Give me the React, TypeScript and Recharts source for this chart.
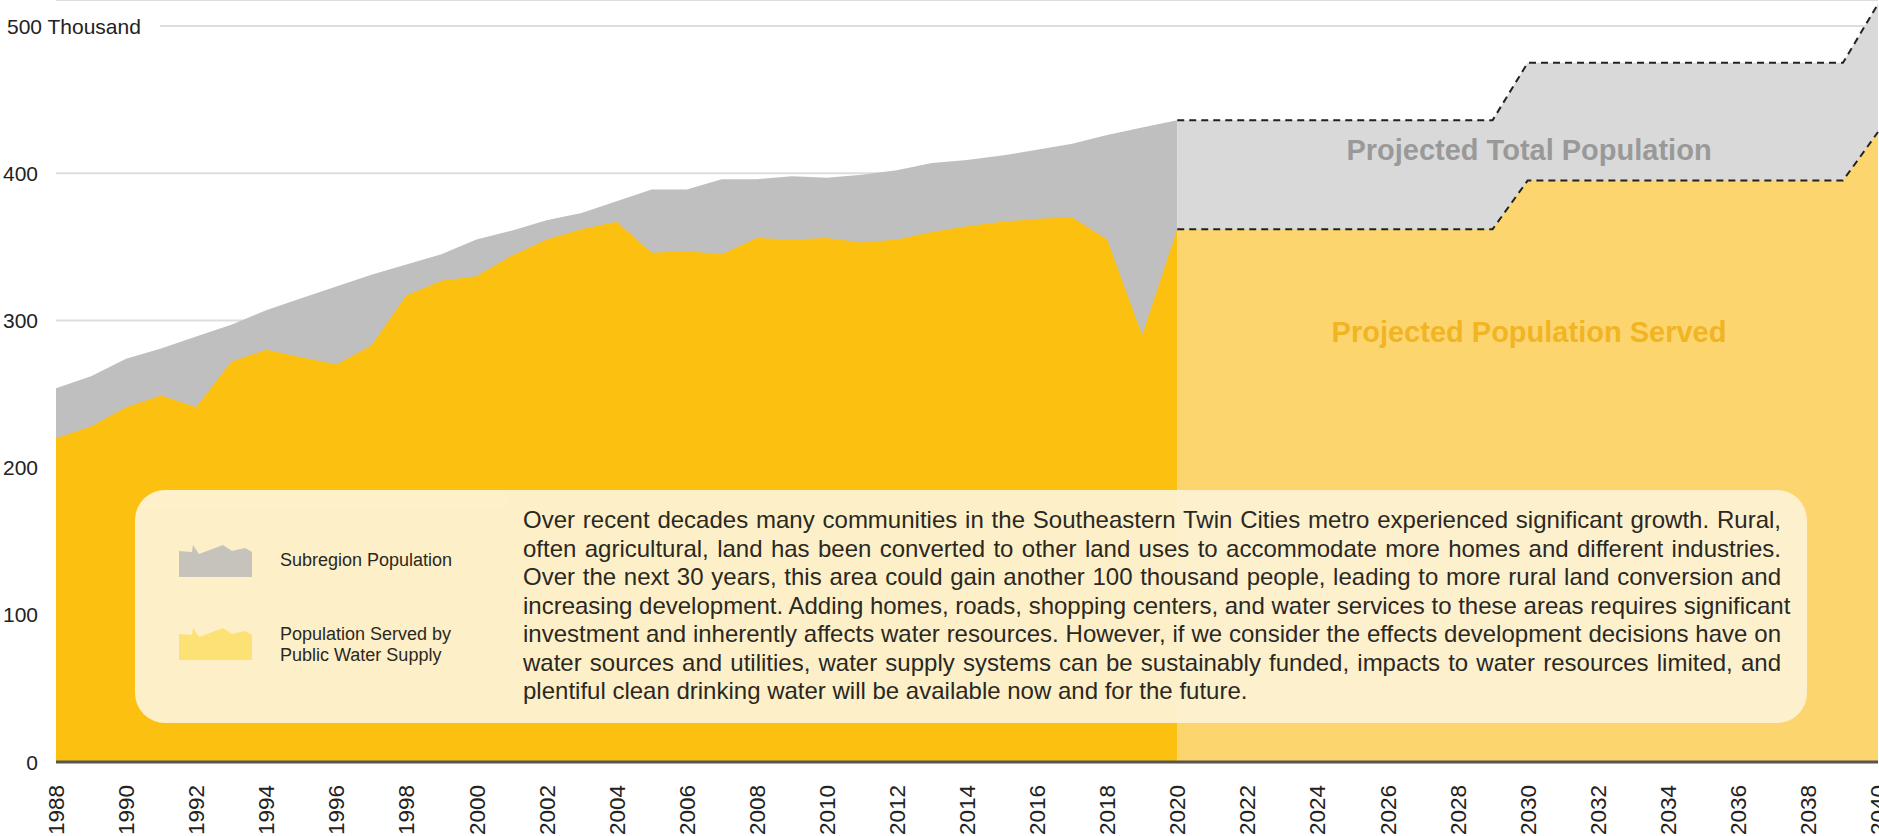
import React from "react";
import { ComposedChart, Area, XAxis, YAxis, CartesianGrid } from "recharts";

// years on the x axis, 1988 - 2040
const years = [
  1988, 1989, 1990, 1991, 1992, 1993, 1994, 1995, 1996, 1997, 1998, 1999, 2000,
  2001, 2002, 2003, 2004, 2005, 2006, 2007, 2008, 2009, 2010, 2011, 2012, 2013,
  2014, 2015, 2016, 2017, 2018, 2019, 2020, 2021, 2022, 2023, 2024, 2025, 2026,
  2027, 2028, 2029, 2030, 2031, 2032, 2033, 2034, 2035, 2036, 2037, 2038, 2039,
  2040,
];

// thousands of people, 1988 - 2020
const subregionPopulation = [
  254, 262, 274, 281, 289, 297, 307, 315, 323, 331, 338, 345, 355, 361, 368,
  373, 381, 389, 389, 396, 396, 398, 397, 399, 402, 407, 409, 412, 416, 420,
  426, 431, 436,
];
const populationServed = [
  220, 228, 241, 249, 241, 272, 280, 275, 270, 283, 317, 327, 330, 344, 355,
  362, 367, 346, 347, 345, 356, 355, 356, 353, 355, 360, 364, 367, 369, 370,
  355, 290, 362,
];

// projections, 2020 - 2040
const projectedTotal = [
  436, 436, 436, 436, 436, 436, 436, 436, 436, 436, 475, 475, 475, 475, 475,
  475, 475, 475, 475, 475, 515,
];
const projectedServed = [
  362, 362, 362, 362, 362, 362, 362, 362, 362, 362, 395, 395, 395, 395, 395,
  395, 395, 395, 395, 395, 428,
];

const yearTicks = [
  1988, 1990, 1992, 1994, 1996, 1998, 2000, 2002, 2004, 2006, 2008, 2010, 2012,
  2014, 2016, 2018, 2020, 2022, 2024, 2026, 2028, 2030, 2032, 2034, 2036, 2038,
  2040,
];
const valueTicks = [0, 100, 200, 300, 400, 500];

const paragraphLines = [
  "Over recent decades many communities in the Southeastern Twin Cities metro experienced significant growth. Rural,",
  "often agricultural, land has been converted to other land uses to accommodate more homes and different industries.",
  "Over the next 30 years, this area could gain another 100 thousand people, leading to more rural land conversion and",
  "increasing development. Adding homes, roads, shopping centers, and water services to these areas requires significant",
  "investment and inherently affects water resources. However, if we consider the effects development decisions have on",
  "water sources and utilities, water supply systems can be sustainably funded, impacts to water resources limited, and",
  "plentiful clean drinking water will be available now and for the future.",
];

const FONT = "'Liberation Sans', Arial, Helvetica, sans-serif";
const PROJ_START = 2020;

const data = years.map((year, i) => ({
  year,
  total: i < subregionPopulation.length ? subregionPopulation[i] : null,
  served: i < populationServed.length ? populationServed[i] : null,
  projTotal: year >= PROJ_START ? projectedTotal[year - PROJ_START] : null,
  projServed: year >= PROJ_START ? projectedServed[year - PROJ_START] : null,
}));

const YTick = (props: any) => {
  const { y, payload } = props;
  if (payload.value === 500) {
    return (
      <g>
        <rect x={0} y={y - 14} width={160} height={28} fill="#fff" />
        <text x={7} y={y} dy="0.36em" textAnchor="start" fontSize={21} fill="#222" fontFamily={FONT}>
          500 Thousand
        </text>
      </g>
    );
  }
  return (
    <text x={38} y={y} dy="0.36em" textAnchor="end" fontSize={21} fill="#222" fontFamily={FONT}>
      {payload.value}
    </text>
  );
};

const XTick = (props: any) => {
  const { x, payload } = props;
  const ty = 785;
  return (
    <text
      x={x}
      y={ty}
      dy="0.36em"
      transform={`rotate(-90, ${x}, ${ty})`}
      textAnchor="end"
      fontSize={22.5}
      fill="#222"
      fontFamily={FONT}
    >
      {payload.value}
    </text>
  );
};

const iconPoints = "0,6 13,7 14,0 20,9 44,0 53,6 66,3 73,7 73,32 0,32";

const App = () => {
  return (
    <div style={{ position: "absolute", left: 0, top: 0, width: 1879, height: 836, background: "#fff", fontFamily: FONT }}>
      <ComposedChart width={1879} height={836} data={data} margin={{ top: 0, right: 1, bottom: 0, left: 0 }}>
        <CartesianGrid horizontal vertical={false} stroke="#dddddd" strokeWidth={2} />
        <XAxis
          dataKey="year"
          type="number"
          domain={[1988, 2040]}
          ticks={yearTicks}
          interval={0}
          height={74}
          tickLine={false}
          axisLine={{ stroke: "#555", strokeWidth: 3 }}
          tick={<XTick />}
        />
        <YAxis
          type="number"
          domain={[0, 517.7]}
          ticks={valueTicks}
          width={56}
          axisLine={false}
          tickLine={false}
          tick={<YTick />}
        />
        <Area type="linear" dataKey="total" stroke="none" fill="#bfbfbf" fillOpacity={1} isAnimationActive={false} />
        <Area type="linear" dataKey="served" stroke="none" fill="#fcc010" fillOpacity={1} isAnimationActive={false} />
        <Area
          type="linear"
          dataKey="projTotal"
          stroke="#222"
          strokeWidth={2}
          strokeDasharray="7 5"
          fill="#d9d9d9"
          fillOpacity={1}
          isAnimationActive={false}
        />
        <Area
          type="linear"
          dataKey="projServed"
          stroke="#222"
          strokeWidth={2}
          strokeDasharray="7 5"
          fill="#fdd56f"
          fillOpacity={1}
          isAnimationActive={false}
        />
      </ComposedChart>

      <div
        style={{
          position: "absolute",
          left: 1529,
          top: 150,
          transform: "translate(-50%, -50%)",
          fontSize: 29,
          fontWeight: "bold",
          color: "#999999",
          whiteSpace: "nowrap",
        }}
      >
        Projected Total Population
      </div>
      <div
        style={{
          position: "absolute",
          left: 1529,
          top: 332,
          transform: "translate(-50%, -50%)",
          fontSize: 29,
          fontWeight: "bold",
          color: "#f1b423",
          whiteSpace: "nowrap",
        }}
      >
        Projected Population Served
      </div>

      <div
        style={{
          position: "absolute",
          left: 135,
          top: 490,
          width: 1672,
          height: 233,
          borderRadius: 30,
          background: "#fef2d1",
          opacity: 0.96,
          color: "#222",
        }}
      >
        <svg style={{ position: "absolute", left: 44, top: 55 }} width={73} height={32}>
          <polygon points={iconPoints} fill="#c4c4c4" />
        </svg>
        <div style={{ position: "absolute", left: 145, top: 60, fontSize: 18, lineHeight: "21px", whiteSpace: "nowrap" }}>
          Subregion Population
        </div>
        <svg style={{ position: "absolute", left: 44, top: 138 }} width={73} height={32}>
          <polygon points={iconPoints} fill="#fde47a" />
        </svg>
        <div style={{ position: "absolute", left: 145, top: 134, fontSize: 18, lineHeight: "21px", whiteSpace: "nowrap" }}>
          Population Served by
          <br />
          Public Water Supply
        </div>
        <div style={{ position: "absolute", left: 388, top: 16, width: 1258, fontSize: 24, lineHeight: "28.5px" }}>
          {paragraphLines.map((line, i) => (
            <div
              key={i}
              style={{
                whiteSpace: "nowrap",
                textAlign: i < paragraphLines.length - 1 ? "justify" : "left",
                textAlignLast: i < paragraphLines.length - 1 ? "justify" : "left",
              }}
            >
              {line}
            </div>
          ))}
        </div>
      </div>
    </div>
  );
};

export default App;
